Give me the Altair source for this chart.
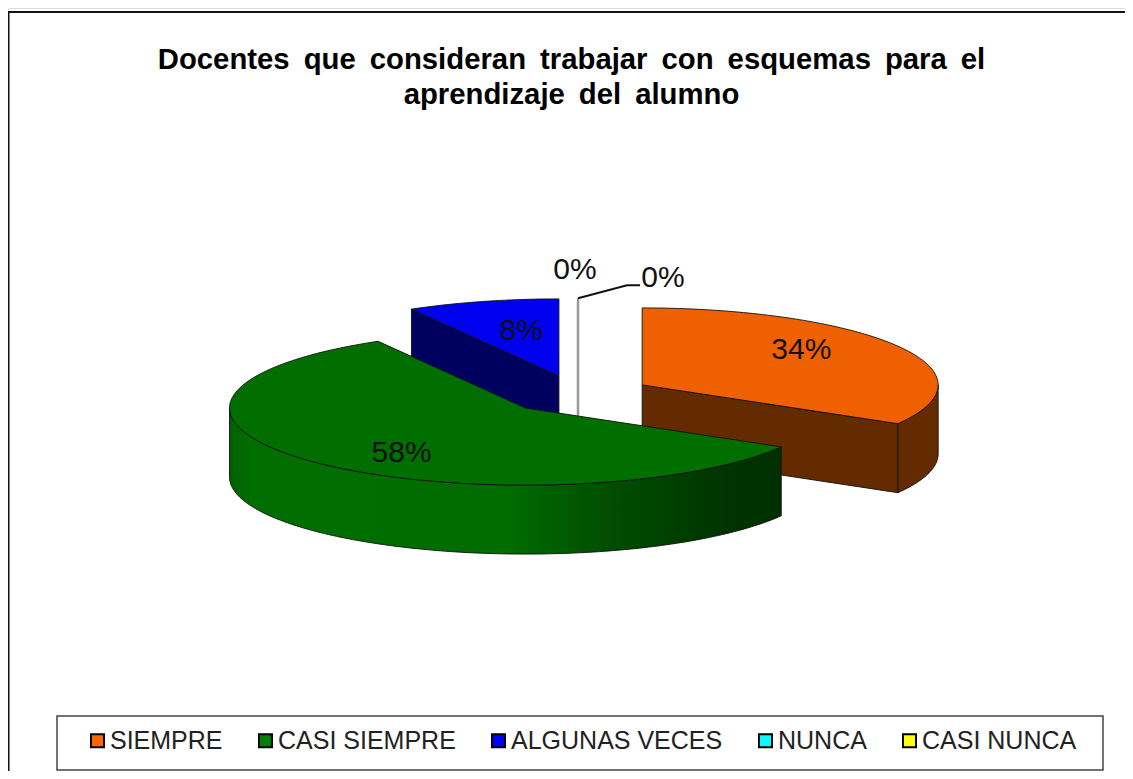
import math
import altair as alt
import pandas as pd

TITLE = ["Docentes \u2009que \u2009consideran \u2009trabajar \u2009con \u2009esquemas \u2009para \u2009el", "aprendizaje \u2009del \u2009alumno"]
CATEGORIES = ["SIEMPRE", "CASI SIEMPRE", "ALGUNAS VECES", "NUNCA", "CASI NUNCA"]
SHARES = [33.4, 58.3, 8.3, 0, 0]
SHARE_LABELS = ["34%", "58%", "8%", "0%", "0%"]
LEGEND_COLORS = ["#FF6600", "#008000", "#0000FF", "#00FFFF", "#FFFF00"]
TOP_COLORS = {"SIEMPRE": "#EF6000", "CASI SIEMPRE": "#006F00", "ALGUNAS VECES": "#0000F0"}
SIDE_COLORS = {"SIEMPRE": "#652B00", "ALGUNAS VECES": "#00005E"}
LABEL_REACH = {"SIEMPRE": (0.62, 0.92), "CASI SIEMPRE": (0.59, 0.83), "ALGUNAS VECES": (0.49, 0.61)}

W, H = 1117, 763
CX, CY, A, B, DEPTH, EXPLODE = 570.0, 386.5, 296.0, 77.0, 69.0, 0.25

# slice geometry, derived from the shares
spans = {}
start = 0.0
for name, share in zip(CATEGORIES, SHARES):
    end = start + share * 3.6
    spans[name] = (start, end)
    start = end


def apex(name):
    s, e = spans[name]
    mid = math.radians((s + e) / 2)
    return CX + EXPLODE * A * math.sin(mid), CY - EXPLODE * B * math.cos(mid)


def rim(name, deg):
    ax, ay = apex(name)
    t = math.radians(deg)
    return ax + A * math.sin(t), ay - B * math.cos(t)


def sweep(name, a0, a1):
    n = max(2, int(abs(a1 - a0)) + 1)
    return [rim(name, a0 + (a1 - a0) * i / (n - 1)) for i in range(n)]


def poly(points, closed=True):
    pts = list(points) + ([points[0]] if closed else [])
    return pd.DataFrame({"px": [p[0] for p in pts], "py": [p[1] for p in pts], "i": range(len(pts))})


xs = alt.Scale(domain=[0, W], range=[0, W])
ys = alt.Scale(domain=[0, H], range=[0, H])
X = alt.X("px:Q", scale=xs, axis=None)
Y = alt.Y("py:Q", scale=ys, axis=None)


def face(points, fill, stroke="#111111", width=0.9):
    return alt.Chart(poly(points)).mark_line(fill=fill, stroke=stroke, strokeWidth=width, clip=False).encode(
        x=X, y=Y, order="i:Q"
    )


def top_face(name):
    s, e = spans[name]
    return [apex(name)] + sweep(name, s, e)


def radial_wall(name, deg):
    a, r = apex(name), rim(name, deg)
    return [a, r, (r[0], r[1] + DEPTH), (a[0], a[1] + DEPTH)]


def outer_wall(name, a0, a1):
    edge = sweep(name, a0, a1)
    return edge + [(x, y + DEPTH) for x, y in reversed(edge)]


green_fill = alt.Gradient(
    gradient="linear", x1=0, x2=1, y1=0, y2=0,
    stops=[
        alt.GradientStop(color="#005F00", offset=0),
        alt.GradientStop(color="#006F00", offset=0.04),
        alt.GradientStop(color="#006C00", offset=0.5),
        alt.GradientStop(color="#004F00", offset=0.68),
        alt.GradientStop(color="#003300", offset=0.9),
        alt.GradientStop(color="#003000", offset=1),
    ],
)

frame = alt.Chart(pd.DataFrame({"a": [0]})).mark_rect(
    fill="white", stroke="#111111", strokeWidth=2, clip=False
).encode(x=alt.value(0.5), x2=alt.value(W + 30), y=alt.value(4), y2=alt.value(H + 30))

legend_box = alt.Chart(pd.DataFrame({"a": [0]})).mark_rect(
    fill="white", stroke="#444444", strokeWidth=1.5
).encode(x=alt.value(49), x2=alt.value(1095), y=alt.value(708), y2=alt.value(762))

legend_layer = alt.Chart(pd.DataFrame({"cat": CATEGORIES})).mark_square(size=0, opacity=1).encode(
    color=alt.Color(
        "cat:N",
        scale=alt.Scale(domain=CATEGORIES, range=LEGEND_COLORS),
        legend=alt.Legend(
            title=None, orient="none", legendX=77, legendY=720, direction="horizontal", columns=5,
            symbolType="square", symbolSize=170, symbolStrokeColor="black", symbolStrokeWidth=2,
            symbolOpacity=1, labelFont="Liberation Sans", labelFontSize=25, labelColor="#222222",
            columnPadding=30, labelOffset=0, labelLimit=400, padding=0,
        ),
    ),
    x=alt.value(-50), y=alt.value(-50),
)

layers = [frame, legend_box]

# blue slice
blue = "ALGUNAS VECES"
layers += [face(radial_wall(blue, spans[blue][0]), SIDE_COLORS[blue]),
           face(top_face(blue), TOP_COLORS[blue])]

# the two empty slices collapse to one edge at the top of the pie
zero_top = rim("NUNCA", 360)
zero_apex = apex("NUNCA")
layers.append(
    alt.Chart(poly([zero_top, (zero_apex[0], zero_apex[1] + DEPTH)], closed=False)).mark_line(
        stroke="#999999", strokeWidth=2.5
    ).encode(x=X, y=Y, order="i:Q")
)
leader = [zero_top, (zero_top[0] + 49, zero_top[1] - 13), (zero_top[0] + 62, zero_top[1] - 13)]
layers.append(
    alt.Chart(poly(leader, closed=False)).mark_line(stroke="#111111", strokeWidth=2).encode(x=X, y=Y, order="i:Q")
)

# orange slice
org = "SIEMPRE"
layers += [face(radial_wall(org, spans[org][1]), SIDE_COLORS[org]),
           face(outer_wall(org, 90, spans[org][1]), SIDE_COLORS[org]),
           face(top_face(org), TOP_COLORS[org])]

# green slice
grn = "CASI SIEMPRE"
layers += [face(outer_wall(grn, spans[grn][0], 270), green_fill),
           face(top_face(grn), TOP_COLORS[grn])]

# data labels
rows = []
for name, text in zip(CATEGORIES[:3], SHARE_LABELS[:3]):
    s, e = spans[name]
    mid = math.radians((s + e) / 2)
    ax, ay = apex(name)
    rx, ry = LABEL_REACH[name]
    rows.append({"px": ax + rx * A * math.sin(mid), "py": ay - ry * B * math.cos(mid), "t": text})
rows.append({"px": zero_top[0] - 3, "py": zero_top[1] - 28, "t": SHARE_LABELS[3]})
rows.append({"px": zero_top[0] + 85, "py": zero_top[1] - 20, "t": SHARE_LABELS[4]})
labels = alt.Chart(pd.DataFrame(rows)).mark_text(
    font="Liberation Sans", fontSize=30, color="#111111", align="center", baseline="middle"
).encode(x=X, y=Y, text="t:N")

layers += [labels, legend_layer]

chart = alt.layer(*layers).resolve_scale(color="independent").properties(
    width=W, height=H, padding=0, autosize=alt.AutoSizeParams(type="none"),
    title=alt.TitleParams(
        text=TITLE, anchor="middle", orient="top", font="Liberation Sans", fontSize=29.3,
        fontWeight="bold", color="black", lineHeight=35, dy=156, dx=5,
    ),
).configure_view(stroke=None).configure(background="white")

chart.save("out.html", embed_options={"renderer": "svg", "actions": False})
